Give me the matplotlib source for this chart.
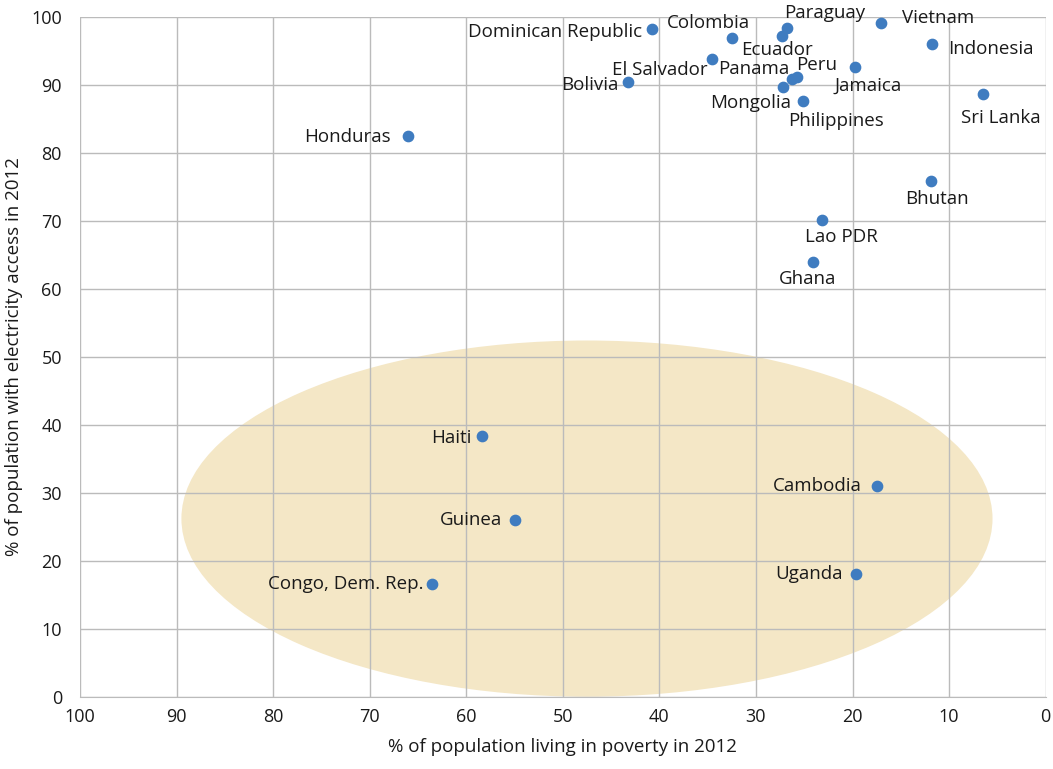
import matplotlib
matplotlib.use("Agg")
import matplotlib.pyplot as plt
from matplotlib.patches import Ellipse

plt.rcParams['font.family'] = ['Open Sans', 'DejaVu Sans']

countries = ['Dominican Republic', 'Colombia', 'Paraguay', 'Ecuador', 'Vietnam',
             'Indonesia', 'El Salvador', 'Bolivia', 'Panama', 'Peru', 'Mongolia',
             'Jamaica', 'Philippines', 'Sri Lanka', 'Honduras', 'Bhutan', 'Lao PDR',
             'Ghana', 'Haiti', 'Cambodia', 'Guinea', 'Uganda', 'Congo, Dem. Rep.']
poverty = [40.8, 32.5, 26.8, 27.3, 17.0, 11.8, 34.5, 43.3, 26.3, 25.8, 27.2,
           19.7, 25.1, 6.5, 66.0, 11.9, 23.2, 24.1, 58.4, 17.5, 55.0, 19.6, 63.5]
electricity = [98.2, 96.9, 98.4, 97.2, 99.1, 96.0, 93.8, 90.4, 90.9, 91.2, 89.7,
               92.6, 87.6, 88.7, 82.5, 75.9, 70.1, 64.0, 38.4, 31.0, 26.0, 18.1, 16.6]

# label placement: (dx px, dy px, horizontal alignment)
label_pos = {
    'Dominican Republic': (-10, -3, 'right'),
    'Colombia': (-23, 15, 'center'),
    'Paraguay': (38, 15, 'center'),
    'Ecuador': (-5, -14, 'center'),
    'Vietnam': (21, 5, 'left'),
    'Indonesia': (16, -5, 'left'),
    'El Salvador': (-5, -11, 'right'),
    'Bolivia': (-9, -3, 'right'),
    'Panama': (-2, 10, 'right'),
    'Peru': (0, 12, 'left'),
    'Mongolia': (8, -16, 'right'),
    'Jamaica': (13, -19, 'center'),
    'Philippines': (33, -20, 'center'),
    'Sri Lanka': (18, -24, 'center'),
    'Honduras': (-18, -1, 'right'),
    'Bhutan': (6, -18, 'center'),
    'Lao PDR': (20, -17, 'center'),
    'Ghana': (-5, -17, 'center'),
    'Haiti': (-10, -2, 'right'),
    'Cambodia': (-15, 0, 'right'),
    'Guinea': (-12, 0, 'right'),
    'Uganda': (-14, 0, 'right'),
    'Congo, Dem. Rep.': (-9, 0, 'right'),
}

fig = plt.figure(figsize=(10.53, 7.69), dpi=100)
ax = fig.add_axes([0.076, 0.094, 0.917, 0.884])

ax.add_patch(Ellipse((47.5, 26.2), 84, 52.4, facecolor='#F4E7C6',
                     edgecolor='none', zorder=0.1))

ax.scatter(poverty, electricity, s=55, color='#3F7CC0', zorder=3)

for name, x, y in zip(countries, poverty, electricity):
    dx, dy, ha = label_pos[name]
    ax.annotate(name, (x, y), xytext=(dx, dy), textcoords='offset pixels',
                ha=ha, va='center', fontsize=13.5, color='#1a1a1a', zorder=4)

ax.set_xlim(100, 0)
ax.set_ylim(0, 100)
ax.set_xticks(range(0, 101, 10))
ax.set_yticks(range(0, 101, 10))
ax.set_axisbelow(True)
ax.grid(True, color='#BBBBBB', linewidth=1)
for s in ['top', 'right', 'left']:
    ax.spines[s].set_visible(False)
ax.spines['bottom'].set_color('#BBBBBB')
ax.tick_params(length=0, labelsize=13, colors='#1a1a1a', pad=8)
ax.tick_params(axis='y', pad=13)
ax.set_xlabel('% of population living in poverty in 2012', fontsize=13.5,
              color='#1a1a1a', labelpad=9)
ax.set_ylabel('% of population with electricity access in 2012', fontsize=13.5,
              color='#1a1a1a', labelpad=6)

fig.savefig('out.png', dpi=100)
